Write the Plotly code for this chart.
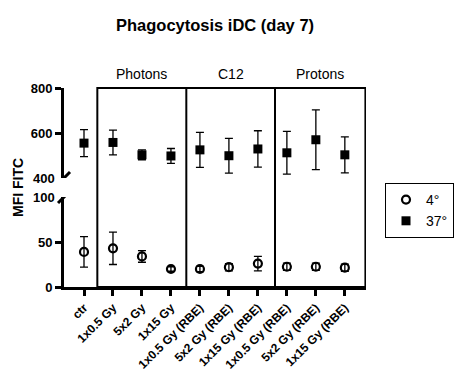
import plotly.graph_objects as go

categories = ["ctr", "1x0.5 Gy", "5x2 Gy", "1x15 Gy",
              "1x0.5 Gy (RBE)", "5x2 Gy (RBE)", "1x15 Gy (RBE)",
              "1x0.5 Gy (RBE)", "5x2 Gy (RBE)", "1x15 Gy (RBE)"]
groups = ["Photons", "C12", "Protons"]

t4_mean = [39, 43, 34, 20, 20, 22, 26, 22.5, 22.5, 21.5]
t4_err = [17, 18, 6.5, 2.5, 3, 4, 8, 4, 4, 4]
t37_mean = [555, 558, 503, 498, 525, 499, 529, 512, 570, 503]
t37_err = [60, 55, 22, 33, 78, 77, 81, 95, 133, 80]

x_idx = list(range(len(categories)))
FONT = "Liberation Sans, Arial, sans-serif"

# plot-area geometry in pixels
L, R, T, B = 64, 366, 88, 287
PW, PH = R - L, B - T


def px_x(p):
    return (p - L) / PW


def px_y(p):
    return (B - p) / PH


fig = go.Figure()
fig.add_trace(go.Scatter(
    x=x_idx, y=t4_mean, mode="markers", name="4°",
    marker=dict(symbol="circle-open", size=8, color="black", line=dict(width=2.2)),
    error_y=dict(type="data", array=t4_err, color="black", thickness=1.3, width=4),
    yaxis="y", xaxis="x"))
fig.add_trace(go.Scatter(
    x=x_idx, y=t37_mean, mode="markers", name="37°",
    marker=dict(symbol="square", size=9, color="black"),
    error_y=dict(type="data", array=t37_err, color="black", thickness=1.3, width=4),
    yaxis="y2", xaxis="x"))

lower_dom = [0, 90 / PH]
upper_dom = [(PH - 90) / PH, 1]

axis_common = dict(showline=True, linecolor="black", linewidth=3,
                   ticks="outside", ticklen=6, tickwidth=3, tickcolor="black",
                   showgrid=False, zeroline=False, automargin=False)

fig.update_layout(
    width=458, height=370,
    margin=dict(l=L, r=458 - R, t=T, b=370 - B, autoexpand=False),
    paper_bgcolor="white", plot_bgcolor="white",
    font=dict(family=FONT, color="black"),
    showlegend=True,
    legend=dict(x=px_x(385), y=px_y(183), xanchor="left", yanchor="top",
                bordercolor="black", borderwidth=1,
                font=dict(size=14, family=FONT, color="black")),
    xaxis=dict(range=[-0.69, 9.73], tickvals=x_idx, ticktext=categories,
               tickangle=-45,
               tickfont=dict(size=12, family=FONT, weight="bold", color="black"),
               anchor="y", **axis_common),
    yaxis=dict(domain=lower_dom, range=[0, 100], tickvals=[0, 50],
               tickfont=dict(size=13, family=FONT, weight="bold", color="black"),
               anchor="x", **axis_common),
    yaxis2=dict(domain=upper_dom, range=[400, 800], tickvals=[600, 800],
                tickfont=dict(size=13, family=FONT, weight="bold", color="black"),
                anchor="x", **axis_common),
)

# group boxes
bounds = [0.46, 3.53, 6.59, 9.71]
fig.add_shape(type="rect", xref="x", yref="paper", x0=bounds[0], x1=bounds[-1],
              y0=0, y1=1, line=dict(color="black", width=2))
for b in bounds[1:-1]:
    fig.add_shape(type="line", xref="x", yref="paper", x0=b, x1=b, y0=0, y1=1,
                  line=dict(color="black", width=2))
for g, (a, b) in zip(groups, zip(bounds[:-1], bounds[1:])):
    fig.add_annotation(text=g, x=(a + b) / 2, xref="x", y=px_y(74), yref="paper",
                       xanchor="center", yanchor="middle", showarrow=False,
                       font=dict(size=14, family=FONT, color="black"))

# break marks
for yr, yv in [("y2", 400), ("y", 100)]:
    fig.add_shape(type="line", xref="paper", yref=yr, xsizemode="pixel", ysizemode="pixel",
                  xanchor=0, yanchor=yv, x0=-6, x1=6, y0=-6, y1=6,
                  line=dict(color="black", width=3))
# break labels
for yr, yv, txt in [("y2", 400, "400"), ("y", 100, "100")]:
    fig.add_annotation(text=txt, x=0, xref="paper", y=yv, yref=yr, xanchor="right",
                       yanchor="middle", xshift=-7, showarrow=False,
                       font=dict(size=13, family=FONT, weight="bold", color="black"))

fig.add_annotation(text="MFI FITC", textangle=-90, x=px_x(18), xref="paper",
                   y=px_y(188), yref="paper", xanchor="center", yanchor="middle",
                   showarrow=False,
                   font=dict(size=14, family=FONT, weight="bold", color="black"))

fig.add_annotation(text="Phagocytosis iDC (day 7)", x=px_x(215), xref="paper",
                   y=px_y(25), yref="paper", xanchor="center", yanchor="middle",
                   showarrow=False,
                   font=dict(size=16.5, family=FONT, weight="bold", color="black"))

fig.write_html("out.html", config={"displayModeBar": False},
               post_script="document.body.style.margin='0px';document.body.style.padding='0px';")
